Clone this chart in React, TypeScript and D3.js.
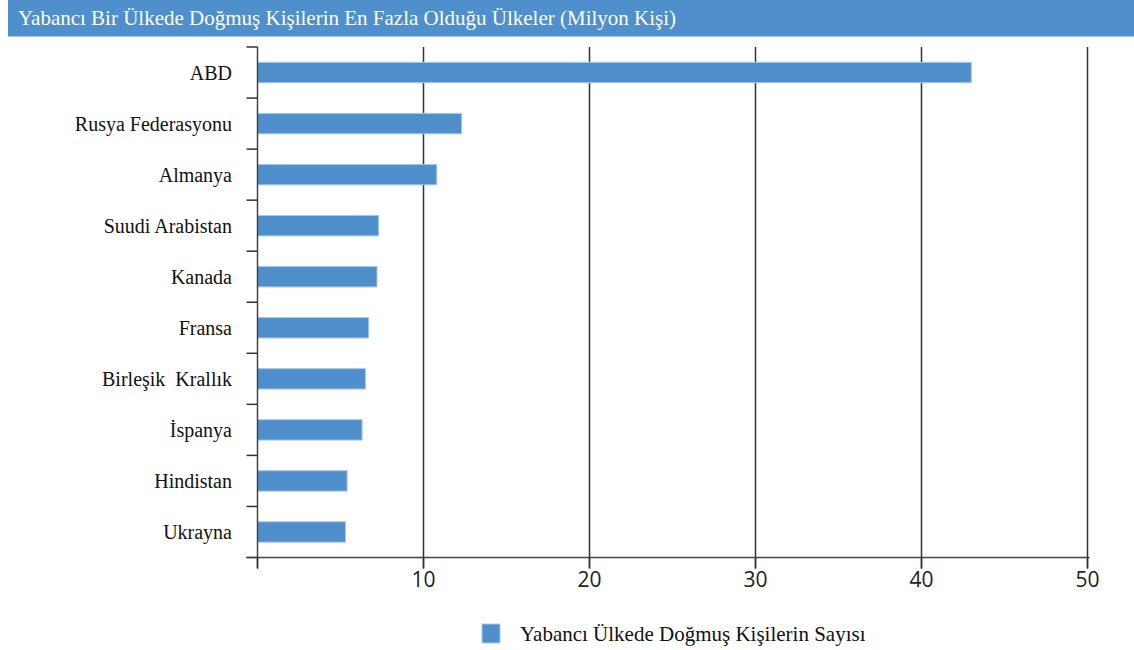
import React from "react";
import * as d3 from "d3";

const titleText = "Yabancı Bir Ülkede Doğmuş Kişilerin En Fazla Olduğu Ülkeler (Milyon Kişi)";
const seriesName = "Yabancı Ülkede Doğmuş Kişilerin Sayısı";
const categories = [
  "ABD",
  "Rusya Federasyonu",
  "Almanya",
  "Suudi Arabistan",
  "Kanada",
  "Fransa",
  "Birleşik  Krallık",
  "İspanya",
  "Hindistan",
  "Ukrayna",
];
const values = [43.0, 12.3, 10.8, 7.3, 7.2, 6.7, 6.5, 6.3, 5.4, 5.3];
const xTicks = [0, 10, 20, 30, 40, 50];

const W = 1134;
const H = 650;
const left = 257.5;
const right = 1087.5;
const top = 47;
const bottom = 557.5;
const BAR = "#4f8fcc";
const SERIF = "'Liberation Serif', 'Times New Roman', serif";
const SANS = "'Open Sans', 'Noto Sans', sans-serif";

export default function App() {
  const x = d3.scaleLinear().domain([0, 50]).range([left, right]);
  const y = d3.scaleBand<string>().domain(categories).range([top, bottom]).paddingInner(0.6).paddingOuter(0.3);
  const yb = d3.scaleBand<string>().domain(categories).range([top, bottom]);
  const bounds = categories.map((c) => yb(c) as number).concat([bottom]);

  return (
    <svg
      width={W}
      height={H}
      style={{ position: "absolute", left: 0, top: 0, background: "#fff" }}
    >
      <rect x={8} y={0} width={W - 8} height={36} fill="#4f8fcc" />
      <line x1={8} x2={W} y1={36.5} y2={36.5} stroke="#a8c8ea" strokeWidth={1} />
      <text x={18} y={25} fill="#fff" fontFamily={SERIF} fontSize={21}>
        {titleText}
      </text>

      {/* grid lines */}
      {xTicks.filter((t) => t > 0).map((t) => (
        <line key={t} x1={x(t)} x2={x(t)} y1={top} y2={bottom + 11} stroke="#333" strokeWidth={1.5} />
      ))}

      {/* bars */}
      {categories.map((c, i) => (
        <rect
          key={c}
          x={x(0)}
          y={y(c)}
          width={x(values[i]) - x(0)}
          height={y.bandwidth()}
          fill={BAR}
          stroke="#a9c9ea"
          strokeWidth={1}
        />
      ))}

      {/* y axis */}
      <line x1={left} x2={left} y1={top} y2={bottom + 11} stroke="#444" strokeWidth={1.5} />
      {bounds.map((b, i) => (
        <line key={i} x1={left - 11} x2={left} y1={b} y2={b} stroke="#333" strokeWidth={1.5} />
      ))}
      {categories.map((c) => (
        <text
          key={c}
          x={232}
          y={(yb(c) as number) + yb.bandwidth() / 2 + 7}
          textAnchor="end"
          fontFamily={SERIF}
          fontSize={20}
          fill="#111"
          style={{ whiteSpace: "pre" }}
        >
          {c}
        </text>
      ))}

      {/* x axis */}
      <line x1={left - 11} x2={right + 2} y1={bottom} y2={bottom} stroke="#444" strokeWidth={1.5} />
      {xTicks.map((t) => (
        <line key={t} x1={x(t)} x2={x(t)} y1={bottom} y2={bottom + 11} stroke="#333" strokeWidth={1.5} />
      ))}
      {xTicks.filter((t) => t > 0).map((t) => (
        <text key={t} x={x(t)} y={587} textAnchor="middle" fontFamily={SANS} fontSize={21} fill="#222">
          {t}
        </text>
      ))}

      {/* legend */}
      <rect x={482} y={624} width={18} height={19} fill={BAR} stroke="#a9c9ea" strokeWidth={1} />
      <text x={520} y={641} fontFamily={SERIF} fontSize={21} fill="#111">
        {seriesName}
      </text>
    </svg>
  );
}
